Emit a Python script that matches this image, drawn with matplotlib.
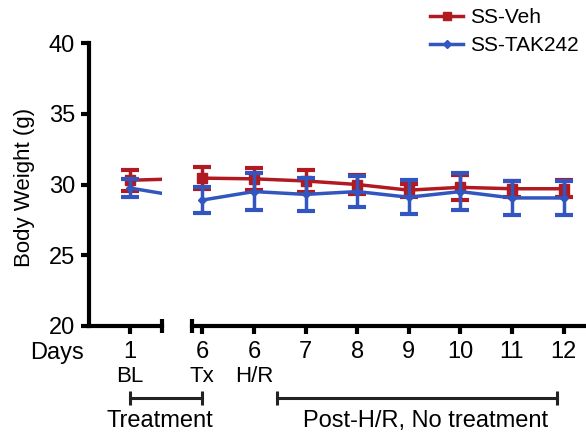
import matplotlib
matplotlib.use("Agg")
import matplotlib.pyplot as plt
import matplotlib.transforms as mtransforms
import numpy as np

plt.rcParams['font.family'] = ['Liberation Sans', 'DejaVu Sans']

# data
day_labels = ['1', '6', '6', '7', '8', '9', '10', '11', '12']
phase_labels = ['BL', 'Tx', 'H/R']
xpos = [0, 1.4, 2.4, 3.4, 4.4, 5.4, 6.4, 7.4, 8.4]
veh_mean = [30.3, 30.45, 30.4, 30.25, 30.0, 29.6, 29.8, 29.7, 29.7]
veh_sem = [0.75, 0.8, 0.8, 0.75, 0.7, 0.45, 0.9, 0.55, 0.6]
tak_mean = [29.75, 28.9, 29.5, 29.3, 29.5, 29.1, 29.5, 29.05, 29.05]
tak_sem = [0.65, 0.9, 1.3, 1.15, 1.1, 1.2, 1.3, 1.2, 1.2]

red = '#B11A20'
blue = '#3156BF'
lw = 2.5
slw = 3

W, H = 586, 434
fig = plt.figure(figsize=(W / 100, H / 100), dpi=100)
bottom = 1 - 326 / H
height = (326 - 43) / H
ax1 = fig.add_axes([89 / W, bottom, (162 - 89) / W, height])
ax2 = fig.add_axes([192 / W, bottom, (W - 192) / W, height])

unit = 51.6

def draw(ax, idx):
    x = [xpos[i] for i in idx]
    for mean, sem, c, mk, ms, z in [(veh_mean, veh_sem, red, 's', 7, 2),
                                    (tak_mean, tak_sem, blue, 'D', 4, 3)]:
        m = [mean[i] for i in idx]
        s = [sem[i] for i in idx]
        ax.errorbar(x, m, yerr=s, fmt='none', ecolor=c, elinewidth=2.5,
                    capsize=6.5, capthick=3, zorder=z)
        ax.plot(x, m, color=c, lw=lw, marker=mk, ms=ms, zorder=z)

draw(ax1, range(len(xpos)))
draw(ax2, range(1, len(xpos)))

ax1.set_xlim(-41 / unit, 32 / unit)
ax2.set_xlim(1.2, 1.2 + (W - 192) / unit)

for ax in (ax1, ax2):
    ax.set_ylim(20, 40)
    ax.spines['top'].set_visible(False)
    ax.spines['right'].set_visible(False)
    ax.spines['bottom'].set_linewidth(slw)
    ax.spines['left'].set_linewidth(slw)
    ax.tick_params(direction='out', length=6, width=slw, labelsize=17, pad=4)
    ax.tick_params(axis='x', pad=5)

ax1.set_xticks(xpos[:1])
ax1.set_xticklabels(day_labels[:1])
ax2.set_xticks(xpos[1:])
ax2.set_xticklabels(day_labels[1:])

ax1.set_yticks([20, 25, 30, 35, 40])
ax2.spines['left'].set_visible(False)
ax2.tick_params(axis='y', left=False, labelleft=False)
ax1.set_ylabel('Body Weight (g)', fontsize=16)
ax1.yaxis.set_label_coords((35 - 89) / 73, 0.49)

# break caps on the x axis
ax1.plot([32 / unit], [20], marker='|', ms=10, mew=slw, color='black', clip_on=False, zorder=5)
ax2.plot([1.2], [20], marker='|', ms=10, mew=slw, color='black', clip_on=False, zorder=5)

tr1 = mtransforms.blended_transform_factory(ax1.transData, ax1.transAxes)
tr2 = mtransforms.blended_transform_factory(ax2.transData, ax2.transAxes)

ax1.text((57 - 130) / unit, (326 - 353) / 283, 'Days', transform=tr1, ha='center',
         va='center', fontsize=17, clip_on=False)
for x, lab in zip(xpos[:3], phase_labels):
    ax2.text(x, (326 - 377) / 283, lab, transform=tr2, ha='center', va='center',
             fontsize=16, clip_on=False)

# phase brackets
yb = (326 - 398) / 283
ax2.plot([xpos[0], xpos[1]], [yb, yb], transform=tr2, color='#222222', lw=2.2,
         marker='|', ms=10, mew=2.2, clip_on=False)
ax2.plot([(277 - 130) / unit, (557 - 130) / unit], [yb, yb], transform=tr2, color='#222222',
         lw=2.2, marker='|', ms=10, mew=2.2, clip_on=False)
yt = (326 - 421) / 283
ax2.text((160 - 130) / unit, yt, 'Treatment', transform=tr2, ha='center', va='center',
         fontsize=17, clip_on=False)
ax2.text((425 - 130) / unit, yt, 'Post-H/R, No treatment', transform=tr2, ha='center',
         va='center', fontsize=17, clip_on=False)

handles = [plt.Line2D([], [], color=red, lw=lw, marker='s', ms=6),
           plt.Line2D([], [], color=blue, lw=lw, marker='D', ms=4)]
fig.legend(handles, ['SS-Veh', 'SS-TAK242'], loc='upper left',
           bbox_to_anchor=(430 / W, 1 - 8 / H), frameon=False, fontsize=15,
           handlelength=1.6, handletextpad=0.3, borderpad=0, borderaxespad=0,
           labelspacing=0.45)

fig.savefig('out.png', dpi=100)
